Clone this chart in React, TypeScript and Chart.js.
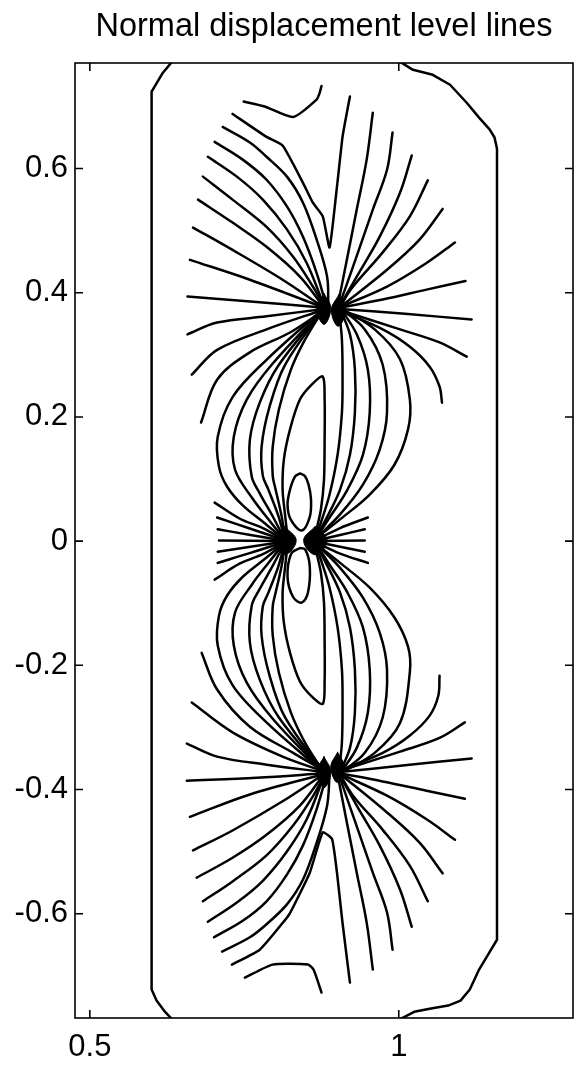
import React, { useEffect, useRef } from 'react';
import { Chart, registerables } from 'chart.js';

Chart.register(...registerables);

type P = [number, number];

const titleText = 'Normal displacement level lines';
const xTicks = [0.5, 1];
const yTicks = [-0.6, -0.4, -0.2, 0, 0.2, 0.4, 0.6];

// outer zero-level contour
const boundaryCurves: P[][] = [
  [[0.633, 0.772], [0.618, 0.754], [0.600, 0.724], [0.600, -0.722], [0.608, -0.740], [0.620, -0.756], [0.633, -0.770]],
  [[1.002, 0.772], [1.023, 0.759], [1.055, 0.751], [1.083, 0.735], [1.110, 0.706], [1.130, 0.682], [1.147, 0.663], [1.155, 0.650], [1.159, 0.632],
   [1.159, -0.642], [1.145, -0.665], [1.130, -0.690], [1.115, -0.722], [1.100, -0.740], [1.080, -0.748], [1.050, -0.753], [1.025, -0.758], [1.002, -0.770]],
];

// small caps near top and bottom
const capCurves: P[][] = [
  [[0.749, 0.708], [0.783, 0.700], [0.829, 0.683], [0.867, 0.711], [0.872, 0.722], [0.875, 0.733]],
  [[0.751, -0.703], [0.796, -0.682], [0.853, -0.682], [0.862, -0.690], [0.875, -0.727]],
];

// V-shaped contours above and below the stars
const vCurves: P[][] = [
  [[0.731, 0.688], [0.786, 0.651], [0.812, 0.637], [0.845, 0.577], [0.861, 0.545], [0.877, 0.523], [0.888, 0.473], [0.900, 0.571], [0.909, 0.651], [0.916, 0.690], [0.921, 0.716]],
  [[0.730, -0.682], [0.775, -0.658], [0.812, -0.615], [0.824, -0.599], [0.856, -0.534], [0.877, -0.469], [0.892, -0.480], [0.900, -0.534], [0.909, -0.615], [0.921, -0.711]],
];

// upper star, left lobe rays
const upperLeftRays: P[][] = [
  [[0.715, 0.667], [0.759, 0.642], [0.786, 0.619], [0.819, 0.587], [0.845, 0.545], [0.867, 0.486], [0.884, 0.426], [0.886, 0.378]],
  [[0.702, 0.643], [0.748, 0.614], [0.786, 0.582], [0.819, 0.539], [0.845, 0.490], [0.867, 0.432], [0.883, 0.378]],
  [[0.691, 0.619], [0.738, 0.587], [0.780, 0.550], [0.819, 0.502], [0.851, 0.448], [0.880, 0.377]],
  [[0.683, 0.587], [0.731, 0.550], [0.786, 0.506], [0.829, 0.458], [0.861, 0.410], [0.880, 0.377]],
  [[0.675, 0.550], [0.731, 0.513], [0.786, 0.474], [0.840, 0.426], [0.879, 0.376]],
  [[0.667, 0.505], [0.731, 0.469], [0.812, 0.421], [0.879, 0.376]],
  [[0.662, 0.453], [0.759, 0.421], [0.879, 0.376]],
  [[0.658, 0.394], [0.770, 0.385], [0.879, 0.376]],
  [[0.658, 0.333], [0.706, 0.352], [0.786, 0.362], [0.879, 0.374]],
  [[0.665, 0.268], [0.706, 0.308], [0.786, 0.341], [0.879, 0.373]],
  [[0.680, 0.191], [0.706, 0.260], [0.759, 0.304], [0.824, 0.336], [0.879, 0.372]],
];

// upper star, right lobe rays
const upperRightRays: P[][] = [
  [[0.958, 0.690], [0.948, 0.614], [0.932, 0.534], [0.916, 0.453], [0.901, 0.378]],
  [[0.990, 0.658], [0.981, 0.598], [0.958, 0.534], [0.926, 0.442], [0.903, 0.378]],
  [[1.021, 0.621], [1.002, 0.561], [0.969, 0.490], [0.932, 0.426], [0.904, 0.378]],
  [[1.047, 0.581], [1.018, 0.523], [0.974, 0.465], [0.926, 0.410], [0.905, 0.378]],
  [[1.071, 0.535], [1.034, 0.486], [0.981, 0.437], [0.905, 0.377]],
  [[1.091, 0.481], [1.045, 0.448], [0.981, 0.410], [0.905, 0.377]],
  [[1.108, 0.419], [1.045, 0.405], [0.974, 0.389], [0.905, 0.376]],
  [[1.118, 0.357], [1.010, 0.366], [0.905, 0.374]],
  [[1.110, 0.297], [1.066, 0.320], [1.002, 0.341], [0.905, 0.372]],
  [[1.070, 0.223], [1.066, 0.249], [1.050, 0.281], [1.018, 0.313], [0.974, 0.341], [0.905, 0.371]],
];

// lines from upper star bulging left into the centre-left lobe
const upperLeftLoops: P[][] = [
  [[0.879, 0.375], [0.848, 0.324], [0.825, 0.275], [0.806, 0.212], [0.796, 0.152], [0.796, 0.105], [0.800, 0.086], [0.810, 0.042], [0.816, 0.005]],
  [[0.879, 0.375], [0.816, 0.284], [0.791, 0.217], [0.778, 0.152], [0.780, 0.105], [0.789, 0.083], [0.805, 0.041], [0.815, 0.005]],
  [[0.879, 0.375], [0.806, 0.284], [0.775, 0.223], [0.759, 0.163], [0.762, 0.104], [0.775, 0.077], [0.797, 0.038], [0.814, 0.005]],
  [[0.879, 0.375], [0.796, 0.286], [0.754, 0.228], [0.733, 0.168], [0.735, 0.115], [0.763, 0.069], [0.790, 0.034], [0.813, 0.005]],
  [[0.879, 0.375], [0.786, 0.292], [0.731, 0.232], [0.707, 0.168], [0.709, 0.120], [0.722, 0.088], [0.748, 0.057], [0.784, 0.028], [0.813, 0.004]],
];

// lines from upper star bulging right into the centre-right lobe
const upperRightLoops: P[][] = [
  [[0.903, 0.376], [0.908, 0.324], [0.909, 0.260], [0.908, 0.207], [0.901, 0.139], [0.888, 0.075], [0.874, 0.030], [0.865, 0.006]],
  [[0.904, 0.376], [0.921, 0.333], [0.929, 0.276], [0.929, 0.207], [0.921, 0.139], [0.905, 0.083], [0.882, 0.035], [0.866, 0.006]],
  [[0.905, 0.376], [0.932, 0.333], [0.950, 0.276], [0.953, 0.207], [0.942, 0.139], [0.917, 0.083], [0.888, 0.038], [0.867, 0.006]],
  [[0.905, 0.376], [0.945, 0.341], [0.974, 0.284], [0.981, 0.207], [0.969, 0.147], [0.942, 0.091], [0.905, 0.043], [0.868, 0.006]],
  [[0.905, 0.376], [0.961, 0.341], [1.002, 0.293], [1.018, 0.228], [1.015, 0.180], [0.993, 0.123], [0.953, 0.075], [0.905, 0.035], [0.868, 0.006]],
];

// pointed loops and small closed ellipses around the centre
const teardropCurves: P[][] = [
  [[0.820, 0.006], [0.816, 0.042], [0.812, 0.083], [0.814, 0.131], [0.824, 0.180], [0.840, 0.228], [0.859, 0.252], [0.877, 0.265], [0.880, 0.228], [0.880, 0.163], [0.879, 0.099], [0.874, 0.051], [0.866, 0.015], [0.864, 0.006]],
  [[0.820, -0.006], [0.816, -0.042], [0.812, -0.083], [0.814, -0.131], [0.824, -0.180], [0.840, -0.226], [0.859, -0.250], [0.877, -0.262], [0.880, -0.226], [0.880, -0.163], [0.879, -0.099], [0.874, -0.051], [0.866, -0.015], [0.864, -0.006]],
];
const ellipseCurves: P[][] = [
  [[0.840, 0.109], [0.832, 0.104], [0.824, 0.083], [0.820, 0.059], [0.825, 0.035], [0.843, 0.017], [0.856, 0.039], [0.858, 0.067], [0.854, 0.091], [0.848, 0.105], [0.840, 0.109]],
  [[0.840, -0.011], [0.826, -0.020], [0.820, -0.058], [0.829, -0.090], [0.843, -0.099], [0.853, -0.083], [0.856, -0.041], [0.849, -0.014], [0.840, -0.011]],
];

// centre star rays
const centerLeftRays: P[][] = [
  [[0.702, 0.062], [0.743, 0.036], [0.780, 0.021], [0.813, 0.003]],
  [[0.706, 0.038], [0.760, 0.020], [0.813, 0.002]],
  [[0.707, 0.019], [0.760, 0.010], [0.813, 0.001]],
  [[0.709, 0.001], [0.813, 0.000]],
  [[0.707, -0.017], [0.760, -0.009], [0.813, -0.001]],
  [[0.707, -0.035], [0.760, -0.019], [0.813, -0.002]],
  [[0.702, -0.062], [0.743, -0.036], [0.780, -0.021], [0.813, -0.003]],
];
const centerRightRays: P[][] = [
  [[0.950, 0.038], [0.905, 0.021], [0.866, 0.002]],
  [[0.945, 0.019], [0.905, 0.010], [0.866, 0.001]],
  [[0.945, 0.001], [0.866, 0.000]],
  [[0.945, -0.017], [0.905, -0.009], [0.866, -0.001]],
  [[0.950, -0.035], [0.905, -0.020], [0.866, -0.002]],
];

// lower star, left lobe rays
const lowerLeftRays: P[][] = [
  [[0.714, -0.661], [0.759, -0.638], [0.786, -0.617], [0.819, -0.585], [0.845, -0.545], [0.867, -0.486], [0.884, -0.426], [0.888, -0.377]],
  [[0.701, -0.638], [0.748, -0.611], [0.786, -0.580], [0.819, -0.537], [0.845, -0.490], [0.867, -0.432], [0.883, -0.377]],
  [[0.691, -0.613], [0.738, -0.582], [0.780, -0.547], [0.819, -0.500], [0.851, -0.448], [0.880, -0.376]],
  [[0.683, -0.580], [0.731, -0.548], [0.786, -0.506], [0.829, -0.458], [0.861, -0.411], [0.880, -0.376]],
  [[0.673, -0.542], [0.731, -0.510], [0.786, -0.473], [0.840, -0.426], [0.879, -0.375]],
  [[0.667, -0.498], [0.731, -0.466], [0.812, -0.419], [0.879, -0.375]],
  [[0.662, -0.444], [0.759, -0.408], [0.879, -0.375]],
  [[0.657, -0.386], [0.770, -0.381], [0.879, -0.374]],
  [[0.657, -0.326], [0.706, -0.347], [0.786, -0.360], [0.879, -0.372]],
  [[0.665, -0.260], [0.731, -0.308], [0.812, -0.347], [0.879, -0.371]],
  [[0.681, -0.180], [0.706, -0.239], [0.759, -0.299], [0.829, -0.341], [0.879, -0.370]],
];

// lower star, right lobe rays
const lowerRightRays: P[][] = [
  [[0.958, -0.690], [0.948, -0.614], [0.932, -0.534], [0.916, -0.453], [0.901, -0.376]],
  [[0.990, -0.658], [0.981, -0.598], [0.958, -0.534], [0.926, -0.442], [0.903, -0.376]],
  [[1.021, -0.621], [1.002, -0.561], [0.969, -0.490], [0.932, -0.426], [0.904, -0.376]],
  [[1.047, -0.580], [1.018, -0.523], [0.974, -0.465], [0.926, -0.410], [0.905, -0.376]],
  [[1.071, -0.535], [1.034, -0.486], [0.981, -0.437], [0.905, -0.375]],
  [[1.091, -0.481], [1.045, -0.448], [0.981, -0.410], [0.905, -0.375]],
  [[1.107, -0.415], [1.045, -0.402], [0.974, -0.387], [0.905, -0.374]],
  [[1.118, -0.350], [1.010, -0.361], [0.905, -0.372]],
  [[1.107, -0.292], [1.066, -0.317], [1.002, -0.339], [0.905, -0.370]],
  [[1.066, -0.217], [1.064, -0.249], [1.050, -0.281], [1.018, -0.313], [0.974, -0.341], [0.905, -0.369]],
];

const lowerLeftLoops: P[][] = [
  [[0.879, -0.373], [0.848, -0.324], [0.825, -0.275], [0.806, -0.212], [0.796, -0.152], [0.796, -0.105], [0.800, -0.086], [0.810, -0.042], [0.816, -0.005]],
  [[0.879, -0.373], [0.816, -0.284], [0.791, -0.217], [0.778, -0.152], [0.780, -0.105], [0.789, -0.083], [0.805, -0.041], [0.815, -0.005]],
  [[0.879, -0.373], [0.806, -0.284], [0.775, -0.223], [0.759, -0.163], [0.762, -0.104], [0.775, -0.077], [0.797, -0.038], [0.814, -0.005]],
  [[0.879, -0.373], [0.796, -0.286], [0.754, -0.228], [0.733, -0.168], [0.735, -0.115], [0.763, -0.069], [0.790, -0.034], [0.813, -0.005]],
  [[0.879, -0.373], [0.786, -0.292], [0.731, -0.232], [0.707, -0.168], [0.709, -0.120], [0.722, -0.088], [0.748, -0.057], [0.784, -0.028], [0.813, -0.004]],
];

const lowerRightLoops: P[][] = [
  [[0.903, -0.374], [0.908, -0.324], [0.909, -0.260], [0.908, -0.207], [0.901, -0.139], [0.888, -0.075], [0.874, -0.030], [0.865, -0.006]],
  [[0.904, -0.374], [0.921, -0.333], [0.929, -0.276], [0.929, -0.207], [0.921, -0.139], [0.905, -0.083], [0.882, -0.035], [0.866, -0.006]],
  [[0.905, -0.374], [0.932, -0.333], [0.950, -0.276], [0.953, -0.207], [0.942, -0.139], [0.917, -0.083], [0.888, -0.038], [0.867, -0.006]],
  [[0.905, -0.374], [0.945, -0.341], [0.974, -0.284], [0.981, -0.207], [0.969, -0.147], [0.942, -0.091], [0.905, -0.043], [0.868, -0.006]],
  [[0.905, -0.374], [0.961, -0.341], [1.002, -0.293], [1.018, -0.210], [1.015, -0.170], [0.993, -0.123], [0.953, -0.075], [0.905, -0.035], [0.868, -0.006]],
];

// dense dark cores where the level lines converge
const blobShapes: P[][] = [
  [[0.879, 0.399], [0.890, 0.375], [0.879, 0.349], [0.867, 0.375], [0.879, 0.399]],
  [[0.903, 0.397], [0.914, 0.372], [0.902, 0.346], [0.891, 0.372], [0.903, 0.397]],
  [[0.815, 0.024], [0.834, 0.001], [0.815, -0.022], [0.797, 0.001], [0.815, 0.024]],
  [[0.865, 0.024], [0.884, 0.001], [0.865, -0.022], [0.846, 0.001], [0.865, 0.024]],
  [[0.879, -0.347], [0.890, -0.372], [0.879, -0.397], [0.867, -0.372], [0.879, -0.347]],
  [[0.901, -0.340], [0.912, -0.364], [0.901, -0.389], [0.890, -0.364], [0.901, -0.340]],
];

const FONT = '"Liberation Sans", Arial, Helvetica, sans-serif';

const framePlugin = {
  id: 'matlabFrame',
  afterDraw(chart: any) {
    const { ctx, chartArea: a, scales } = chart;
    ctx.save();
    ctx.strokeStyle = '#000';
    ctx.lineWidth = 1.6;
    ctx.strokeRect(a.left, a.top, a.right - a.left, a.bottom - a.top);
    const L = 8;
    ctx.beginPath();
    xTicks.forEach((v) => {
      const px = scales.x.getPixelForValue(v);
      ctx.moveTo(px, a.bottom);
      ctx.lineTo(px, a.bottom - L);
      ctx.moveTo(px, a.top);
      ctx.lineTo(px, a.top + L);
    });
    yTicks.forEach((v) => {
      const py = scales.y.getPixelForValue(v);
      ctx.moveTo(a.left, py);
      ctx.lineTo(a.left + L, py);
      ctx.moveTo(a.right, py);
      ctx.lineTo(a.right - L, py);
    });
    ctx.stroke();
    ctx.fillStyle = '#000';
    ctx.font = `32.5px ${FONT}`;
    ctx.textAlign = 'center';
    ctx.textBaseline = 'middle';
    ctx.fillText(titleText, (a.left + a.right) / 2, 27);
    ctx.restore();
  },
};

function mk(pts: P[], tension = 0.35) {
  return {
    data: pts.map(([x, y]) => ({ x, y })),
    showLine: true,
    borderColor: '#000',
    backgroundColor: '#000',
    borderWidth: 2.5,
    pointRadius: 0,
    pointHoverRadius: 0,
    tension,
    fill: false,
    borderCapStyle: 'round',
    borderJoinStyle: 'round',
  };
}

function blob(pts: P[]) {
  return { ...mk(pts, 0.4), borderWidth: 1, fill: 'shape' };
}

export default function App() {
  const ref = useRef<HTMLCanvasElement | null>(null);

  useEffect(() => {
    if (!ref.current) return;
    const datasets: any[] = [
      ...boundaryCurves.map((c) => mk(c, 0)),
      ...capCurves.map((c) => mk(c, 0.2)),
      ...vCurves.map((c) => mk(c, 0.15)),
      ...upperLeftRays.map((c) => mk(c)),
      ...upperRightRays.map((c) => mk(c)),
      ...upperLeftLoops.map((c) => mk(c)),
      ...upperRightLoops.map((c) => mk(c)),
      ...teardropCurves.map((c) => mk(c, 0.3)),
      ...ellipseCurves.map((c) => mk(c, 0.35)),
      ...centerLeftRays.map((c) => mk(c)),
      ...centerRightRays.map((c) => mk(c)),
      ...lowerLeftRays.map((c) => mk(c)),
      ...lowerRightRays.map((c) => mk(c)),
      ...lowerLeftLoops.map((c) => mk(c)),
      ...lowerRightLoops.map((c) => mk(c)),
      ...blobShapes.map((c) => blob(c)),
    ];
    const tickFont = { family: FONT, size: 31 };
    const chart = new Chart(ref.current, {
      type: 'scatter',
      data: { datasets },
      options: {
        animation: false,
        responsive: false,
        devicePixelRatio: 1,
        events: [],
        layout: { padding: { top: 63, left: 0, right: 1, bottom: 0 } },
        plugins: { legend: { display: false }, tooltip: { enabled: false }, title: { display: false } },
        scales: {
          x: {
            type: 'linear',
            min: 0.476,
            max: 1.282,
            afterBuildTicks: (s: any) => {
              s.ticks = xTicks.map((v) => ({ value: v }));
            },
            afterFit: (s: any) => {
              s.height = 47;
            },
            ticks: {
              autoSkip: false,
              maxRotation: 0,
              padding: 11,
              color: '#000',
              font: tickFont,
              callback: (v: any) => String(v),
            },
            grid: { display: false, drawTicks: false },
            border: { display: false },
          },
          y: {
            type: 'linear',
            min: -0.768,
            max: 0.77,
            afterBuildTicks: (s: any) => {
              s.ticks = yTicks.map((v) => ({ value: v }));
            },
            afterFit: (s: any) => {
              s.width = 75;
            },
            ticks: {
              autoSkip: false,
              padding: 7,
              color: '#000',
              font: tickFont,
              callback: (v: any) => String(v),
            },
            grid: { display: false, drawTicks: false },
            border: { display: false },
          },
        },
      } as any,
      plugins: [framePlugin],
    } as any);
    return () => chart.destroy();
  }, []);

  return (
    <div style={{ position: 'absolute', left: 0, top: 0, width: 574, height: 1065, background: '#fff' }}>
      <canvas ref={ref} width={574} height={1065} style={{ display: 'block', width: 574, height: 1065 }} />
    </div>
  );
}
